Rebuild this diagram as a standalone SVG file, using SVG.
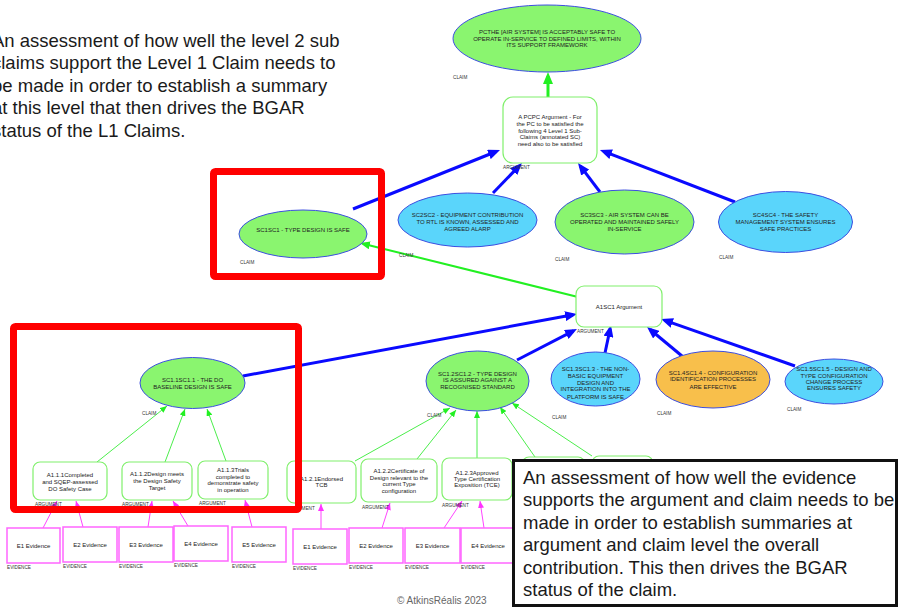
<svg xmlns="http://www.w3.org/2000/svg" width="904" height="607" viewBox="0 0 904 607">
  <style>
    text { font-family: "Liberation Sans", Arial, sans-serif; }
    .t { font-size: 6px; fill: #222; text-anchor: middle; }
    .lb { font-size: 4.7px; fill: #333; }
    .big { font-size: 18.5px; fill: #1a1a1a; }
    .cG { fill: #8af56f; stroke: #3c4ee0; stroke-width: 1; }
    .cC { fill: #5ad5fb; stroke: #3c4ee0; stroke-width: 1; }
    .cO { fill: #f8bf4b; stroke: #3c4ee0; stroke-width: 1; }
    .arg { fill: #fff; stroke: #80f06c; stroke-width: 1.2; }
    .ev { fill: #fff; stroke: #ff66ff; stroke-width: 1.5; }
    .cb { stroke: #0a0aff; stroke-width: 3; fill: none; marker-end: url(#ab); }
    .cg { stroke: #22f022; stroke-width: 3; fill: none; marker-end: url(#ag); }
    .cg2 { stroke: #22f022; stroke-width: 2; fill: none; marker-end: url(#ag2); }
    .cgt { stroke: #4cee4c; stroke-width: 1; fill: none; marker-end: url(#agt); }
    .cm { stroke: #ff44ff; stroke-width: 1; fill: none; marker-end: url(#am); }
    .hl { fill: none; stroke: #ff0000; stroke-width: 7; }
  </style>
  <defs>
    <marker id="ab" markerUnits="userSpaceOnUse" viewBox="0 0 12 10" markerWidth="12" markerHeight="10" refX="8" refY="5" orient="auto">
      <path d="M0,0 L12,5 L0,10 z" fill="#0a0aff"/>
    </marker>
    <marker id="ag" markerUnits="userSpaceOnUse" viewBox="0 0 12 10" markerWidth="12" markerHeight="10" refX="8" refY="5" orient="auto">
      <path d="M0,0 L12,5 L0,10 z" fill="#22f022"/>
    </marker>
    <marker id="ag2" markerUnits="userSpaceOnUse" viewBox="0 0 10 8" markerWidth="10" markerHeight="8" refX="7" refY="4" orient="auto">
      <path d="M0,0 L10,4 L0,8 z" fill="#22f022"/>
    </marker>
    <marker id="agt" markerUnits="userSpaceOnUse" viewBox="0 0 7 6" markerWidth="7" markerHeight="6" refX="7" refY="3" orient="auto">
      <path d="M0,0 L7,3 L0,6 z" fill="#22f022"/>
    </marker>
    <marker id="am" markerUnits="userSpaceOnUse" viewBox="0 0 7 6" markerWidth="7" markerHeight="6" refX="7" refY="3" orient="auto">
      <path d="M0,0 L7,3 L0,6 z" fill="#ff33ff"/>
    </marker>
  </defs>

  <rect width="904" height="607" fill="#fff"/>

  <!-- explanatory note, upper left -->
  <g id="note-claims">
    <text class="big" x="-8" y="47">An assessment of how well the level 2 sub</text>
    <text class="big" x="-8" y="69.4">claims support the Level 1 Claim needs to</text>
    <text class="big" x="-8" y="91.8">be made in order to establish a summary</text>
    <text class="big" x="-8" y="114.2">at this level that then drives the BGAR</text>
    <text class="big" x="-8" y="136.6">status of the L1 Claims.</text>
  </g>

  <!-- connectors -->
  <g id="connectors">
    <line class="cg" x1="548" y1="97" x2="548" y2="76"/>
    <line class="cb" x1="353" y1="209" x2="496.3" y2="151.5"/>
    <line class="cb" x1="493" y1="193" x2="519.2" y2="165.9"/>
    <line class="cb" x1="600" y1="192" x2="580.4" y2="166.2"/>
    <line class="cb" x1="735" y1="202" x2="603.7" y2="151.4"/>
    <line class="cg2" x1="578" y1="297" x2="362.9" y2="243.7"/>
    <line class="cb" x1="243" y1="376" x2="573.1" y2="314.7"/>
    <line class="cb" x1="517" y1="360" x2="573.4" y2="330.8"/>
    <line class="cb" x1="605" y1="353" x2="610.1" y2="328.9"/>
    <line class="cb" x1="682" y1="356" x2="650.1" y2="329.5"/>
    <line class="cb" x1="795" y1="366" x2="664.8" y2="320.3"/>
    <line class="cgt" x1="97" y1="462" x2="167" y2="406"/>
    <line class="cgt" x1="165" y1="462" x2="185" y2="409"/>
    <line class="cgt" x1="226" y1="461" x2="207" y2="409"/>
    <line class="cgt" x1="355" y1="461" x2="450" y2="408"/>
    <line class="cgt" x1="417" y1="459" x2="456" y2="410"/>
    <line class="cgt" x1="477" y1="458" x2="477" y2="411"/>
    <line class="cgt" x1="535" y1="457" x2="500" y2="407"/>
    <line class="cgt" x1="592" y1="456" x2="512" y2="403"/>
    <line class="cm" x1="43" y1="528" x2="57" y2="501"/>
    <line class="cm" x1="83" y1="527" x2="76" y2="501"/>
    <line class="cm" x1="148" y1="527" x2="152" y2="501"/>
    <line class="cm" x1="188" y1="526" x2="173" y2="501"/>
    <line class="cm" x1="252" y1="527" x2="245" y2="500"/>
    <line class="cm" x1="321" y1="529" x2="321" y2="504"/>
    <line class="cm" x1="382" y1="528" x2="390" y2="503"/>
    <line class="cm" x1="444" y1="528" x2="462" y2="501"/>
    <line class="cm" x1="484" y1="528" x2="480" y2="501"/>
  </g>

  <!-- top claim -->
  <g id="PC">
    <ellipse class="cG" cx="547" cy="38.5" rx="94" ry="33.5"/>
    <text class="t" x="547" y="34">PCTHE [AIR SYSTEM] IS ACCEPTABLY SAFE TO</text>
    <text class="t" x="547" y="40.6">OPERATE IN-SERVICE TO DEFINED LIMITS, WITHIN</text>
    <text class="t" x="547" y="47.2">ITS SUPPORT FRAMEWORK</text>
    <text class="lb" x="453" y="78.5">CLAIM</text>
  </g>

  <g id="A-PC">
    <rect class="arg" x="503" y="97" width="94" height="66" rx="10"/>
    <text class="t" x="550" y="119.3">A PCPC Argument - For</text>
    <text class="t" x="550" y="126">the PC to be satisfied the</text>
    <text class="t" x="550" y="132.7">following 4 Level 1 Sub-</text>
    <text class="t" x="550" y="139.3">Claims  (annotated SC)</text>
    <text class="t" x="550" y="146">need also to be satisfied</text>
    <text class="lb" x="503" y="169">ARGUMENT</text>
  </g>

  <!-- level 1 claims -->
  <g id="SC1">
    <ellipse class="cG" cx="303" cy="234" rx="64" ry="24"/>
    <text class="t" x="303" y="231.5">SC1SC1 - TYPE DESIGN IS SAFE</text>
    <text class="lb" x="240" y="263.5">CLAIM</text>
  </g>
  <g id="SC2">
    <ellipse class="cC" cx="467.5" cy="220" rx="69.5" ry="27"/>
    <text class="t" x="467.5" y="217">SC2SC2 - EQUIPMENT CONTRIBUTION</text>
    <text class="t" x="467.5" y="224">TO RTL IS KNOWN, ASSESSED AND</text>
    <text class="t" x="467.5" y="231">AGREED ALARP</text>
    <text class="lb" x="399" y="256.5">CLAIM</text>
  </g>
  <g id="SC3">
    <ellipse class="cG" cx="624.5" cy="222" rx="69.5" ry="32"/>
    <text class="t" x="624.5" y="217">SC3SC3 - AIR SYSTEM CAN BE</text>
    <text class="t" x="624.5" y="224">OPERATED AND MAINTAINED SAFELY</text>
    <text class="t" x="624.5" y="231">IN-SERVICE</text>
    <text class="lb" x="555" y="260.5">CLAIM</text>
  </g>
  <g id="SC4">
    <ellipse class="cC" cx="785.5" cy="222" rx="67" ry="30.5"/>
    <text class="t" x="785.5" y="217">SC4SC4 - THE SAFETY</text>
    <text class="t" x="785.5" y="224">MANAGEMENT SYSTEM ENSURES</text>
    <text class="t" x="785.5" y="231">SAFE PRACTICES</text>
    <text class="lb" x="719" y="258.5">CLAIM</text>
  </g>

  <g id="A1SC1">
    <rect class="arg" x="576" y="286" width="86" height="41" rx="8"/>
    <text class="t" x="619" y="309">A1SC1 Argument</text>
    <text class="lb" x="577" y="333">ARGUMENT</text>
  </g>

  <!-- level 2 claims -->
  <g id="SC1-1">
    <ellipse class="cG" cx="192.5" cy="383" rx="52.5" ry="25.5"/>
    <text class="t" x="192.5" y="382">SC1.1SC1.1 - THE DO</text>
    <text class="t" x="192.5" y="388.8">BASELINE DESIGN IS SAFE</text>
    <text class="lb" x="142" y="414.5">CLAIM</text>
  </g>
  <g id="SC1-2">
    <ellipse class="cG" cx="477.5" cy="381" rx="51.5" ry="30"/>
    <text class="t" x="477.5" y="376">SC1.2SC1.2 - TYPE DESIGN</text>
    <text class="t" x="477.5" y="382.4">IS ASSURED AGAINST A</text>
    <text class="t" x="477.5" y="389.4">RECOGNISED STANDARD</text>
    <text class="lb" x="427" y="416.5">CLAIM</text>
  </g>
  <g id="SC1-3">
    <ellipse class="cC" cx="595.5" cy="379" rx="44.5" ry="27"/>
    <text class="t" x="595.5" y="371.3">SC1.3SC1.3 - THE NON-</text>
    <text class="t" x="595.5" y="377.8">BASIC EQUIPMENT</text>
    <text class="t" x="595.5" y="384.7">DESIGN AND</text>
    <text class="t" x="595.5" y="391.4">INTEGRATION INTO THE</text>
    <text class="t" x="595.5" y="398.7">PLATFORM IS SAFE</text>
    <text class="lb" x="552" y="418.5">CLAIM</text>
  </g>
  <g id="SC1-4">
    <ellipse class="cO" cx="713" cy="379.5" rx="57" ry="28.5"/>
    <text class="t" x="713" y="374.7">SC1.4SC1.4 - CONFIGURATION</text>
    <text class="t" x="713" y="381.3">IDENTIFICATION PROCESSES</text>
    <text class="t" x="713" y="388.7">ARE EFFECTIVE</text>
    <text class="lb" x="657" y="414.5">CLAIM</text>
  </g>
  <g id="SC1-5">
    <ellipse class="cC" cx="834" cy="381.5" rx="49" ry="22.5"/>
    <text class="t" x="834" y="371.3">SC1.5SC1.5 - DESIGN AND</text>
    <text class="t" x="834" y="377.5">TYPE CONFIGURATION</text>
    <text class="t" x="834" y="383.7">CHANGE PROCESS</text>
    <text class="t" x="834" y="390.3">ENSURES SAFETY</text>
    <text class="lb" x="787" y="410.5">CLAIM</text>
  </g>

  <!-- level 3 arguments -->
  <g id="A1-1-1">
    <rect class="arg" x="33" y="462" width="74" height="38" rx="7"/>
    <text class="t" x="70" y="477">A1.1.1Completed</text>
    <text class="t" x="70" y="484">and SQEP-assessed</text>
    <text class="t" x="70" y="491">DO Safety Case</text>
    <text class="lb" x="35" y="506">ARGUMENT</text>
  </g>
  <g id="A1-1-2">
    <rect class="arg" x="122" y="462" width="70" height="38" rx="7"/>
    <text class="t" x="157" y="476">A1.1.2Design meets</text>
    <text class="t" x="157" y="482.7">the Design Safety</text>
    <text class="t" x="157" y="489.7">Target</text>
    <text class="lb" x="122" y="506">ARGUMENT</text>
  </g>
  <g id="A1-1-3">
    <rect class="arg" x="198" y="461" width="70" height="38" rx="7"/>
    <text class="t" x="233" y="472">A1.1.3Trials</text>
    <text class="t" x="233" y="478.7">completed to</text>
    <text class="t" x="233" y="485.3">demonstrate safety</text>
    <text class="t" x="233" y="492">in operation</text>
    <text class="lb" x="199" y="505">ARGUMENT</text>
  </g>
  <g id="A1-2-1">
    <rect class="arg" x="287" y="461" width="69" height="42" rx="7"/>
    <text class="t" x="321.5" y="481.3">A1.2.1Endorsed</text>
    <text class="t" x="321.5" y="487.3">TCB</text>
    <text class="lb" x="288" y="509.5">ARGUMENT</text>
  </g>
  <g id="A1-2-2">
    <rect class="arg" x="361" y="459" width="76" height="43" rx="7"/>
    <text class="t" x="399" y="473">A1.2.2Certificate of</text>
    <text class="t" x="399" y="479.7">Design relevant to the</text>
    <text class="t" x="399" y="486.3">current Type</text>
    <text class="t" x="399" y="493">configuration</text>
    <text class="lb" x="362" y="508.5">ARGUMENT</text>
  </g>
  <g id="A1-2-3">
    <rect class="arg" x="442" y="458" width="70" height="42" rx="7"/>
    <text class="t" x="477" y="474.7">A1.2.3Approved</text>
    <text class="t" x="477" y="481.3">Type Certification</text>
    <text class="t" x="477" y="487.3">Exposition (TCE)</text>
    <text class="lb" x="442" y="506.5">ARGUMENT</text>
  </g>
  <g id="A1-2-4">
    <rect class="arg" x="522" y="457" width="63" height="42" rx="7"/>
  </g>
  <g id="A1-2-5">
    <rect class="arg" x="592" y="456" width="61" height="42" rx="7"/>
  </g>

  <!-- evidence -->
  <g id="E1-a">
    <rect class="ev" x="7" y="528" width="53" height="35"/>
    <text class="t" x="33.5" y="548">E1 Evidence</text>
    <text class="lb" x="7" y="568.5">EVIDENCE</text>
  </g>
  <g id="E2-a">
    <rect class="ev" x="63" y="527" width="54" height="35"/>
    <text class="t" x="90" y="547">E2 Evidence</text>
    <text class="lb" x="63" y="567.5">EVIDENCE</text>
  </g>
  <g id="E3-a">
    <rect class="ev" x="119" y="527" width="54" height="35"/>
    <text class="t" x="146" y="547">E3 Evidence</text>
    <text class="lb" x="119" y="567.5">EVIDENCE</text>
  </g>
  <g id="E4-a">
    <rect class="ev" x="174" y="526" width="54" height="35"/>
    <text class="t" x="201" y="546">E4 Evidence</text>
    <text class="lb" x="174" y="566.5">EVIDENCE</text>
  </g>
  <g id="E5-a">
    <rect class="ev" x="232" y="527" width="54" height="35"/>
    <text class="t" x="259" y="547">E5 Evidence</text>
    <text class="lb" x="232" y="567.5">EVIDENCE</text>
  </g>
  <g id="E1-b">
    <rect class="ev" x="293" y="529" width="54" height="35"/>
    <text class="t" x="320" y="549">E1 Evidence</text>
    <text class="lb" x="293" y="569.5">EVIDENCE</text>
  </g>
  <g id="E2-b">
    <rect class="ev" x="349" y="528" width="54" height="35"/>
    <text class="t" x="376" y="548">E2 Evidence</text>
    <text class="lb" x="349" y="568.5">EVIDENCE</text>
  </g>
  <g id="E3-b">
    <rect class="ev" x="405" y="528" width="55" height="35"/>
    <text class="t" x="432.5" y="548">E3 Evidence</text>
    <text class="lb" x="405" y="568.5">EVIDENCE</text>
  </g>
  <g id="E4-b">
    <rect class="ev" x="461" y="528" width="60" height="35"/>
    <text class="t" x="488" y="547.5">E4 Evidence</text>
    <text class="lb" x="461" y="568.5">EVIDENCE</text>
  </g>

  <!-- highlight frames -->
  <g id="highlights">
    <rect class="hl" x="213.5" y="171.5" width="168" height="105" rx="2"/>
    <rect class="hl" x="13.5" y="326.5" width="285" height="183" rx="2"/>
  </g>

  <text x="397" y="604" font-size="10" fill="#666">© AtkinsRéalis  2023</text>

  <!-- explanatory note, lower right -->
  <g id="note-evidence">
    <rect x="513.5" y="460.5" width="383" height="145" fill="#fff" stroke="#111" stroke-width="3"/>
    <text class="big" x="523" y="484">An assessment of how well the evidence</text>
    <text class="big" x="523" y="506.4">supports the argument and claim needs to be</text>
    <text class="big" x="523" y="528.8">made in order to establish summaries at</text>
    <text class="big" x="523" y="551.2">argument and claim level the overall</text>
    <text class="big" x="523" y="573.6">contribution.  This then drives the BGAR</text>
    <text class="big" x="523" y="596">status of the claim.</text>
  </g>
</svg>
